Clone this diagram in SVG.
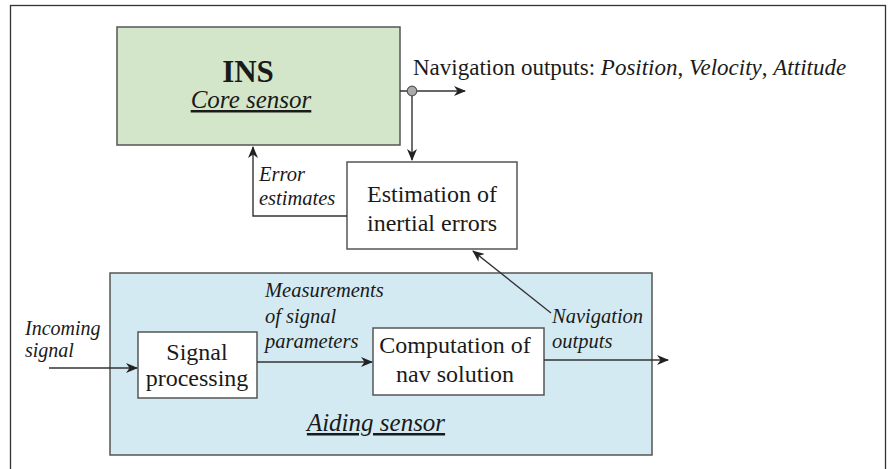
<svg xmlns="http://www.w3.org/2000/svg" width="893" height="469" viewBox="0 0 893 469">
<defs>
<marker id="arr" viewBox="0 0 12 10" refX="11" refY="5" markerWidth="12" markerHeight="10" markerUnits="userSpaceOnUse" orient="auto">
<path d="M0,0 L12,5 L0,10 L3.5,5 Z" fill="#222"/>
</marker>
</defs>
<style>
.box{stroke:#555;stroke-width:1.5}
.t{font-family:"Liberation Serif","Times New Roman",serif;fill:#1a1a1a}
.i{font-style:italic}
.c{text-anchor:middle}
.ln{fill:none;stroke:#333;stroke-width:1.4}
</style>
<rect x="0" y="0" width="893" height="469" fill="#fff"/>
<rect x="10.5" y="5.5" width="875" height="480" fill="none" stroke="#333" stroke-width="1.3"/>

<g id="aiding">
<rect class="box" x="110" y="273" width="542" height="182" fill="#d4eaf2"/>
<text class="t i c" x="376" y="431" font-size="25" text-decoration="underline">Aiding sensor</text>
</g>

<g id="ins">
<rect class="box" x="117" y="27" width="283" height="118" fill="#d4e6c9"/>
<text class="t c" x="248" y="82" font-size="31" font-weight="bold">INS</text>
<text class="t i c" x="251" y="108" font-size="25" text-decoration="underline">Core sensor</text>
</g>

<g id="estimation">
<rect class="box" x="347" y="162" width="170" height="87" fill="#fff"/>
<text class="t c" x="432" y="202" font-size="24">Estimation of</text>
<text class="t c" x="432" y="231" font-size="24">inertial errors</text>
</g>

<g id="signal">
<rect class="box" x="138" y="332" width="119" height="66" fill="#fff"/>
<text class="t c" x="197" y="360" font-size="24">Signal</text>
<text class="t c" x="197" y="386" font-size="24">processing</text>
</g>

<g id="computation">
<rect class="box" x="373" y="328" width="171" height="67" fill="#fff"/>
<text class="t c" x="455" y="353" font-size="24">Computation of</text>
<text class="t c" x="455" y="382" font-size="24">nav solution</text>
</g>

<g id="connectors">
<line class="ln" x1="400" y1="91" x2="465" y2="91" marker-end="url(#arr)"/>
<line class="ln" x1="412" y1="91" x2="412" y2="160" marker-end="url(#arr)"/>
<circle cx="412" cy="91" r="4.8" fill="#aaa" stroke="#555" stroke-width="1.2"/>
<polyline class="ln" points="347,216 253,216 253,147" marker-end="url(#arr)"/>
<line class="ln" x1="49" y1="368" x2="137" y2="368" marker-end="url(#arr)"/>
<line class="ln" x1="257" y1="362" x2="372" y2="362" marker-end="url(#arr)"/>
<line class="ln" x1="544" y1="360" x2="668" y2="360" marker-end="url(#arr)"/>
<line class="ln" x1="551" y1="313" x2="473" y2="251" marker-end="url(#arr)"/>
</g>

<g id="labels">
<text class="t" x="413" y="75" font-size="23">Navigation outputs: <tspan class="i">Position</tspan>, <tspan class="i">Velocity</tspan>, <tspan class="i">Attitude</tspan></text>
<text class="t i" x="259" y="181" font-size="20.5">Error</text>
<text class="t i" x="259" y="205" font-size="20.5">estimates</text>
<text class="t i" x="25" y="335" font-size="20">Incoming</text>
<text class="t i" x="25" y="357" font-size="20">signal</text>
<text class="t i" x="265" y="297" font-size="20.5">Measurements</text>
<text class="t i" x="265" y="323" font-size="20.5">of signal</text>
<text class="t i" x="265" y="348" font-size="20.5">parameters</text>
<text class="t i" x="552" y="323" font-size="20.5">Navigation</text>
<text class="t i" x="552" y="348" font-size="20.5">outputs</text>
</g>
</svg>
